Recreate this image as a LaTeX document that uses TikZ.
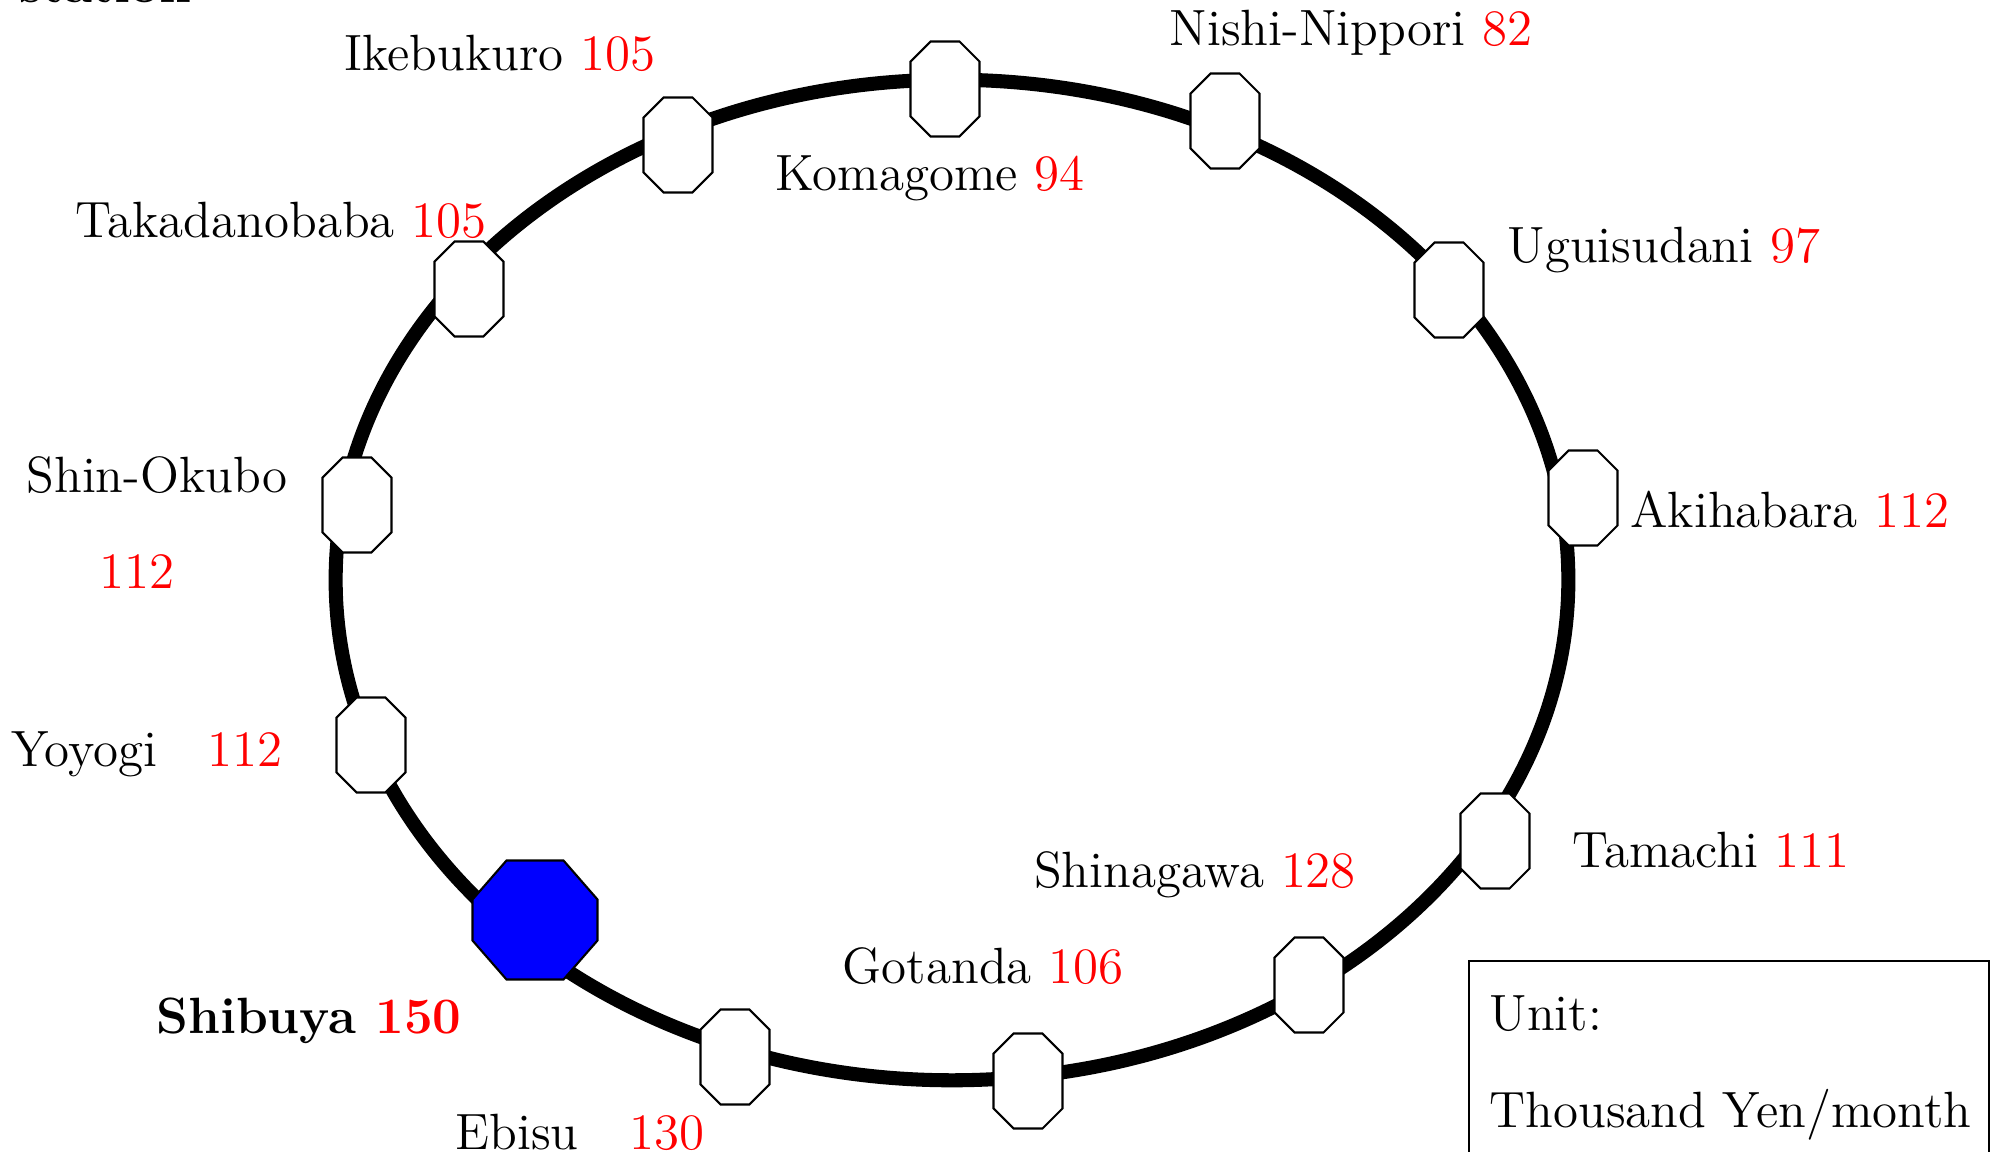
\documentclass[tikz,border=0pt]{standalone}
\usepackage{tikz}
\newcommand{\RENT}[1]{\textcolor{red}{#1}}
% octagon drawn inside a node: x cut, y cut, fill
\newcommand{\octpath}[3]{%
  \draw[fill=#3, draw opacity=1, line width=0.6pt]
    ([shift={(#1,-0.3pt)}]path picture bounding box.north west) --
    ([shift={(-#1,-0.3pt)}]path picture bounding box.north east) --
    ([shift={(-0.3pt,-#2)}]path picture bounding box.north east) --
    ([shift={(-0.3pt,#2)}]path picture bounding box.south east) --
    ([shift={(-#1,0.3pt)}]path picture bounding box.south east) --
    ([shift={(#1,0.3pt)}]path picture bounding box.south west) --
    ([shift={(0.3pt,#2)}]path picture bounding box.south west) --
    ([shift={(0.3pt,-#2)}]path picture bounding box.north west) -- cycle;}

\begin{document}
\begin{tikzpicture}[x=0.01cm, y=-0.01cm,
  octa/.style={draw, draw opacity=0, inner sep=0pt,
    minimum width=0.71cm, minimum height=0.97cm,
    path picture={\octpath{0.21cm}{0.21cm}{white}}},
  bigocta/.style={draw, draw opacity=0, inner sep=0pt,
    minimum width=1.27cm, minimum height=1.21cm,
    path picture={\octpath{0.35cm}{0.40cm}{blue}}},
  txt/.style={anchor=base, inner sep=0pt, font=\fontsize{14.5}{17}\selectfont}]

  \useasboundingbox (0,0) rectangle (1993,1152);

  % the loop line
  \draw[line width=4pt] (952,580) ellipse [x radius=6.16cm, y radius=5cm];

  % stations
  \node[octa] (komagome) at (945,89) {};
  \node[octa] (nishinippori) at (1225,121) {};
  \node[octa] (uguisudani) at (1449,290) {};
  \node[octa] (akihabara) at (1583,498) {};
  \node[octa] (tamachi) at (1495,841) {};
  \node[octa] (shinagawa) at (1309,985) {};
  \node[octa] (gotanda) at (1028,1081) {};
  \node[octa] (ebisu) at (735,1057) {};
  \node[bigocta] (shibuya) at (535,920) {};
  \node[octa] (yoyogi) at (371,745) {};
  \node[octa] (shinokubo) at (357,505) {};
  \node[octa] (takadanobaba) at (469,289) {};
  \node[octa] (ikebukuro) at (678,145) {};

  % names and rents
  \node[txt, anchor=base west] (title) at (19,3) {\bfseries station};
  \node[txt] (ikebukuro-lbl) at (500,71) {Ikebukuro \RENT{105}};
  \node[txt] (takadanobaba-lbl) at (281,238) {Takadanobaba \RENT{105}};
  \node[txt] (komagome-lbl) at (930,191) {Komagome \RENT{94}};
  \node[txt] (nishinippori-lbl) at (1351,46) {Nishi-Nippori \RENT{82}};
  \node[txt] (uguisudani-lbl) at (1664,263) {Uguisudani \RENT{97}};
  \node[txt] (akihabara-lbl) at (1790,528) {Akihabara \RENT{112}};
  \node[txt] (tamachi-lbl) at (1711,867) {Tamachi \RENT{111}};
  \node[txt] (shinagawa-lbl) at (1195,887) {Shinagawa \RENT{128}};
  \node[txt] (gotanda-lbl) at (983,983) {Gotanda \RENT{106}};
  \node[txt] (ebisu-lbl) at (580,1149) {Ebisu\quad\RENT{130}};
  \node[txt] (shibuya-lbl) at (309,1033) {\bfseries Shibuya \RENT{150}};
  \node[txt] (yoyogi-lbl) at (147,767) {Yoyogi\quad\RENT{112}};
  \node[txt] (shinokubo-lbl) at (157,493) {Shin-Okubo};
  \node[txt] (shinokubo-rent) at (137,589) {\RENT{112}};

  % unit box
  \draw[line width=0.6pt] (1469,961) rectangle (1989,1200);
  \node[txt, anchor=base west] (unit) at (1489,1030) {Unit:};
  \node[txt, anchor=base west] (yen) at (1489,1127) {Thousand Yen/month};

\end{tikzpicture}
\end{document}
